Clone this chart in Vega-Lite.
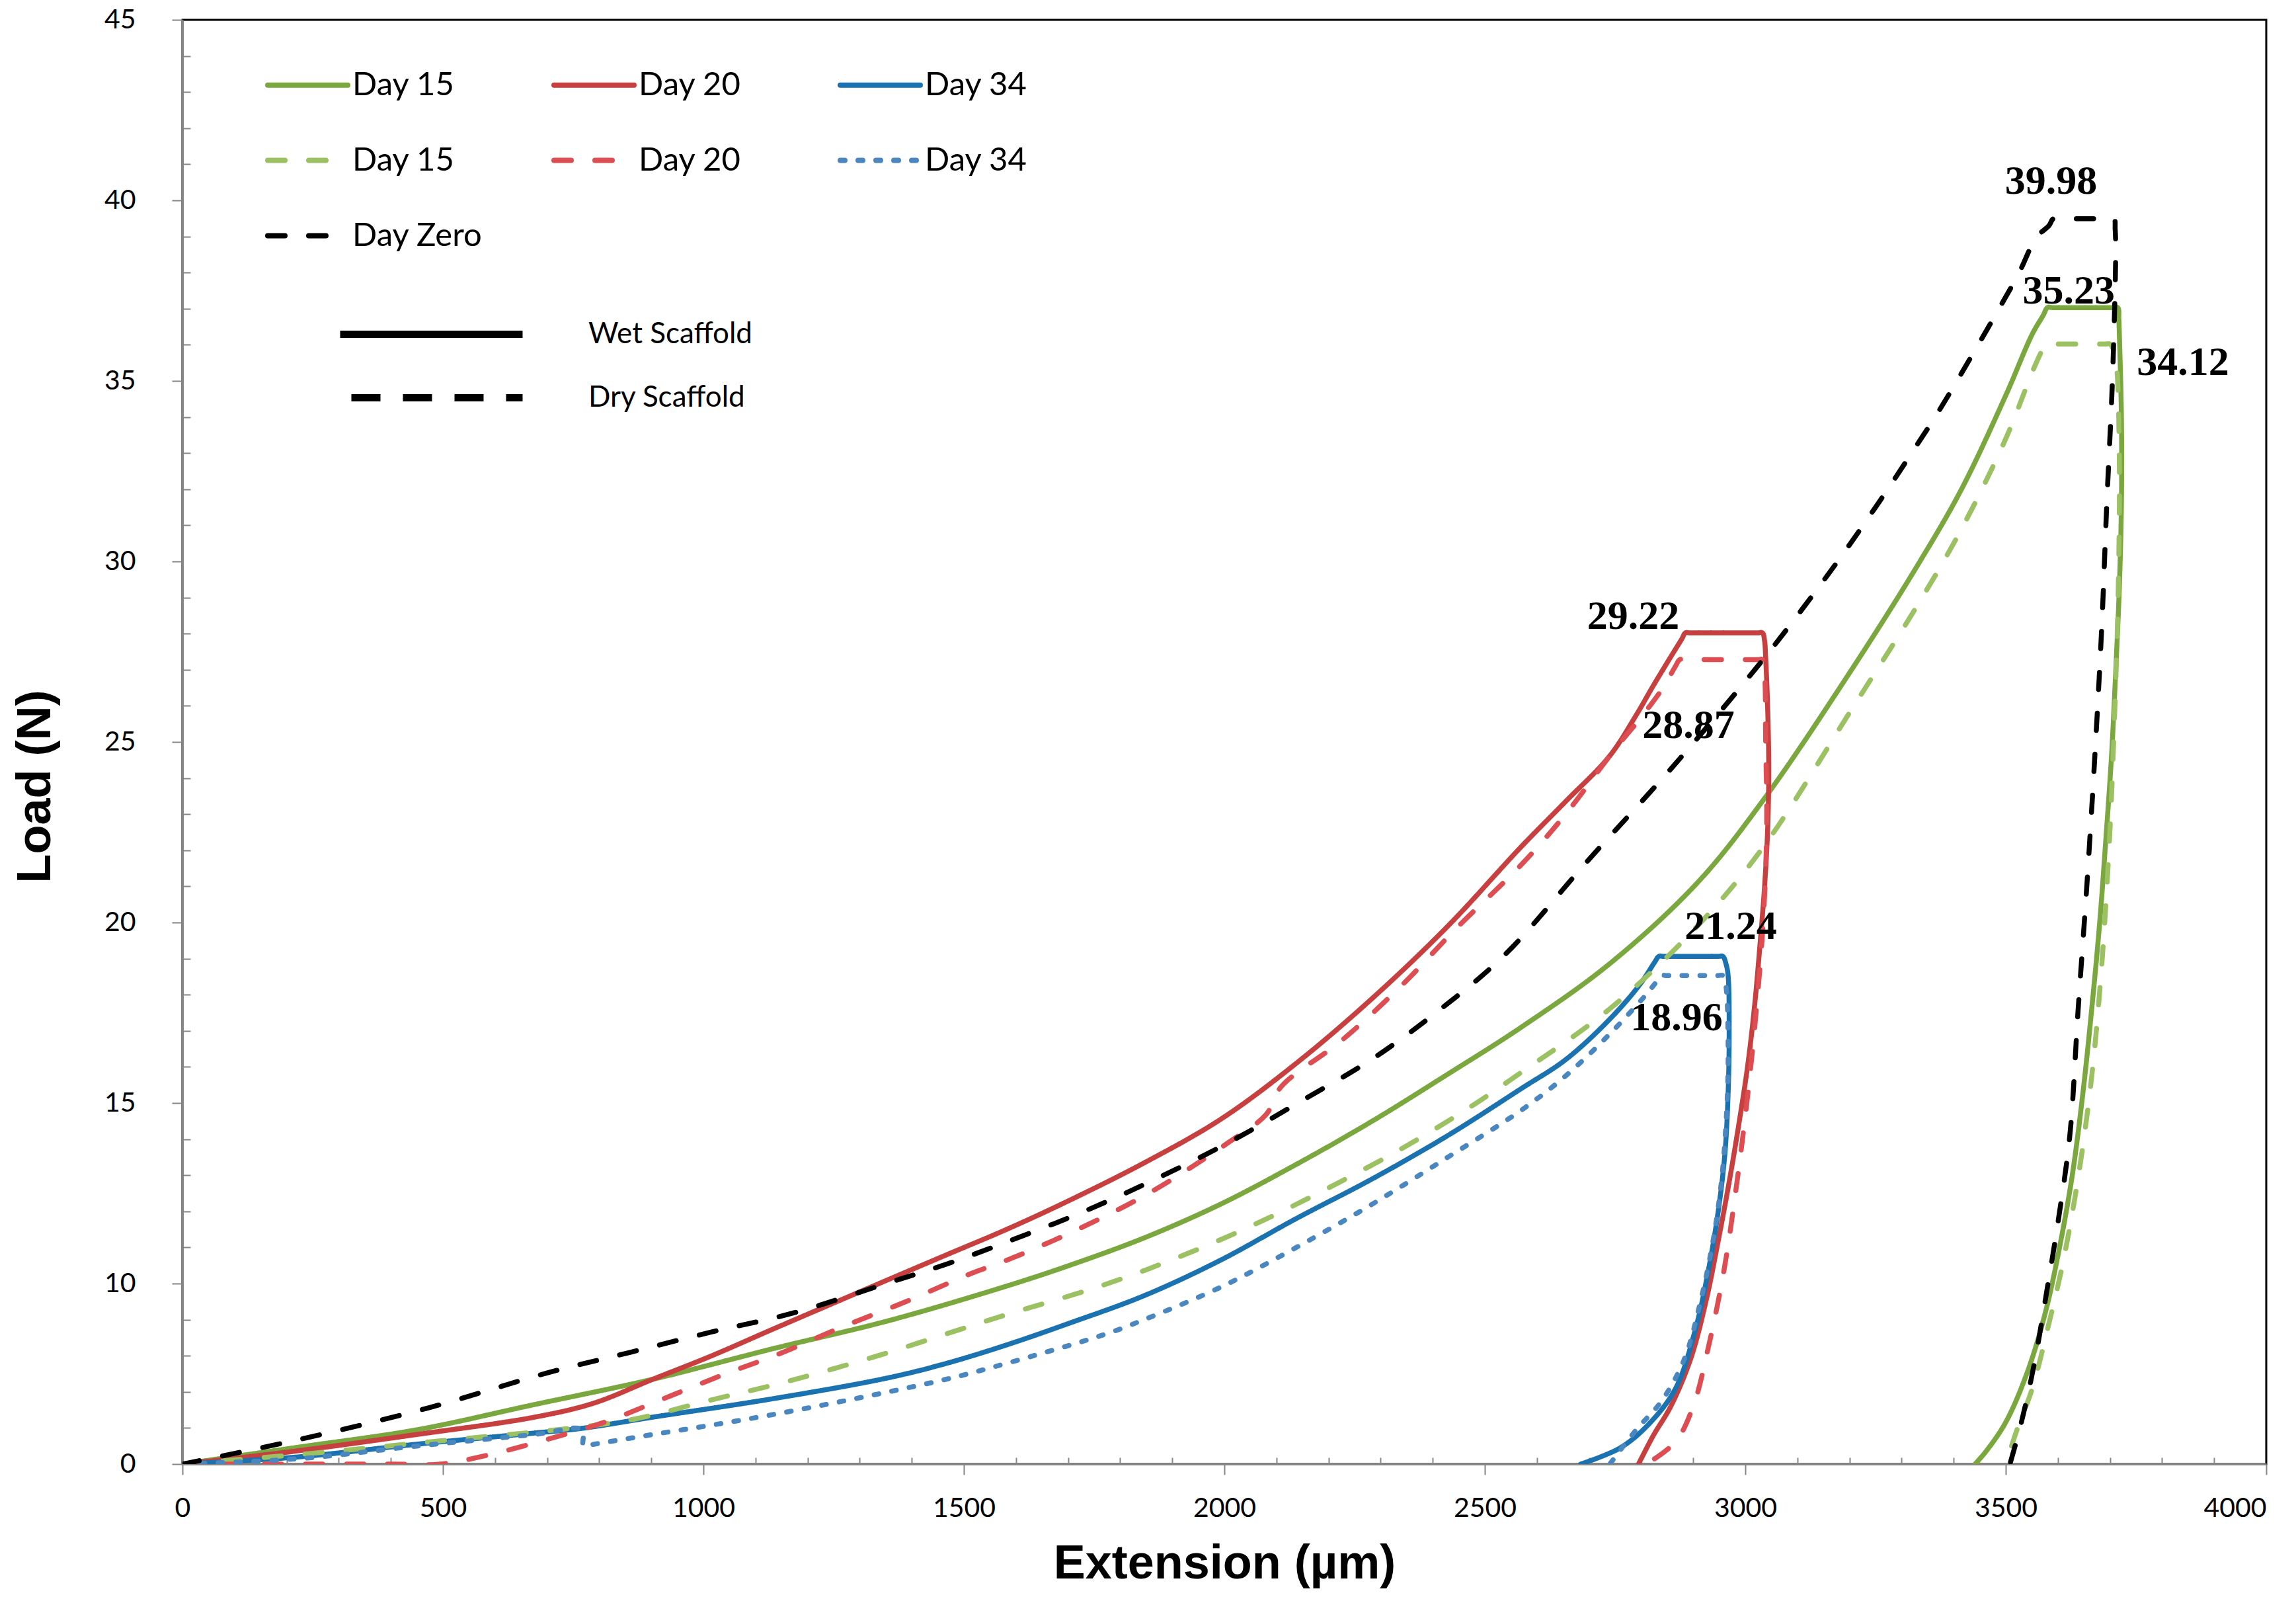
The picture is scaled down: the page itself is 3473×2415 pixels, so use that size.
{
"$schema": "https://vega.github.io/schema/vega-lite/v6.json",
"autosize": "none",
"width": 3152,
"height": 2184,
"padding": {"left": 276, "top": 30, "right": 45, "bottom": 201},
"background": "white",
"config": {"view": {"stroke": "black", "strokeWidth": 3}},
"datasets": {
"curves": [
{"series":"Day 15 wet","scaffold":"Wet Scaffold","i":0,"x":0,"y":5},
{"series":"Day 15 wet","scaffold":"Wet Scaffold","i":1,"x":224,"y":5.47},
{"series":"Day 15 wet","scaffold":"Wet Scaffold","i":2,"x":450,"y":5.95},
{"series":"Day 15 wet","scaffold":"Wet Scaffold","i":3,"x":676,"y":6.65},
{"series":"Day 15 wet","scaffold":"Wet Scaffold","i":4,"x":903,"y":7.35},
{"series":"Day 15 wet","scaffold":"Wet Scaffold","i":5,"x":1129,"y":8.18},
{"series":"Day 15 wet","scaffold":"Wet Scaffold","i":6,"x":1355,"y":8.97},
{"series":"Day 15 wet","scaffold":"Wet Scaffold","i":7,"x":1582,"y":9.93},
{"series":"Day 15 wet","scaffold":"Wet Scaffold","i":8,"x":1702,"y":10.5},
{"series":"Day 15 wet","scaffold":"Wet Scaffold","i":9,"x":1847,"y":11.27},
{"series":"Day 15 wet","scaffold":"Wet Scaffold","i":10,"x":1993,"y":12.2},
{"series":"Day 15 wet","scaffold":"Wet Scaffold","i":11,"x":2138,"y":13.3},
{"series":"Day 15 wet","scaffold":"Wet Scaffold","i":12,"x":2284,"y":14.5},
{"series":"Day 15 wet","scaffold":"Wet Scaffold","i":13,"x":2429,"y":15.8},
{"series":"Day 15 wet","scaffold":"Wet Scaffold","i":14,"x":2570,"y":17.1},
{"series":"Day 15 wet","scaffold":"Wet Scaffold","i":15,"x":2739,"y":18.85},
{"series":"Day 15 wet","scaffold":"Wet Scaffold","i":16,"x":2908,"y":21.1},
{"series":"Day 15 wet","scaffold":"Wet Scaffold","i":17,"x":3035,"y":23.4},
{"series":"Day 15 wet","scaffold":"Wet Scaffold","i":18,"x":3204,"y":27.0},
{"series":"Day 15 wet","scaffold":"Wet Scaffold","i":19,"x":3331,"y":29.9},
{"series":"Day 15 wet","scaffold":"Wet Scaffold","i":20,"x":3415,"y":32.0},
{"series":"Day 15 wet","scaffold":"Wet Scaffold","i":21,"x":3500,"y":34.6},
{"series":"Day 15 wet","scaffold":"Wet Scaffold","i":22,"x":3551,"y":36.3},
{"series":"Day 15 wet","scaffold":"Wet Scaffold","i":23,"x":3572,"y":36.82},
{"series":"Day 15 wet","scaffold":"Wet Scaffold","i":24,"x":3580,"y":37.03},
{"series":"Day 15 wet","scaffold":"Wet Scaffold","i":25,"x":3590,"y":37.03},
{"series":"Day 15 wet","scaffold":"Wet Scaffold","i":26,"x":3705,"y":37.03},
{"series":"Day 15 wet","scaffold":"Wet Scaffold","i":27,"x":3715,"y":37.03},
{"series":"Day 15 wet","scaffold":"Wet Scaffold","i":28,"x":3717,"y":36.7},
{"series":"Day 15 wet","scaffold":"Wet Scaffold","i":29,"x":3718,"y":36.3},
{"series":"Day 15 wet","scaffold":"Wet Scaffold","i":30,"x":3722,"y":33.96},
{"series":"Day 15 wet","scaffold":"Wet Scaffold","i":31,"x":3722,"y":31.63},
{"series":"Day 15 wet","scaffold":"Wet Scaffold","i":32,"x":3718,"y":29.29},
{"series":"Day 15 wet","scaffold":"Wet Scaffold","i":33,"x":3711,"y":26.95},
{"series":"Day 15 wet","scaffold":"Wet Scaffold","i":34,"x":3703,"y":24.62},
{"series":"Day 15 wet","scaffold":"Wet Scaffold","i":35,"x":3692,"y":22.28},
{"series":"Day 15 wet","scaffold":"Wet Scaffold","i":36,"x":3680,"y":19.95},
{"series":"Day 15 wet","scaffold":"Wet Scaffold","i":37,"x":3665,"y":17.61},
{"series":"Day 15 wet","scaffold":"Wet Scaffold","i":38,"x":3648,"y":15.27},
{"series":"Day 15 wet","scaffold":"Wet Scaffold","i":39,"x":3627,"y":12.94},
{"series":"Day 15 wet","scaffold":"Wet Scaffold","i":40,"x":3601,"y":10.84},
{"series":"Day 15 wet","scaffold":"Wet Scaffold","i":41,"x":3576,"y":9.2},
{"series":"Day 15 wet","scaffold":"Wet Scaffold","i":42,"x":3542,"y":7.57},
{"series":"Day 15 wet","scaffold":"Wet Scaffold","i":43,"x":3500,"y":6.16},
{"series":"Day 15 wet","scaffold":"Wet Scaffold","i":44,"x":3462,"y":5.35},
{"series":"Day 15 wet","scaffold":"Wet Scaffold","i":45,"x":3441,"y":5},
{"series":"Day 20 wet","scaffold":"Wet Scaffold","i":0,"x":0,"y":5},
{"series":"Day 20 wet","scaffold":"Wet Scaffold","i":1,"x":201,"y":5.33},
{"series":"Day 20 wet","scaffold":"Wet Scaffold","i":2,"x":450,"y":5.82},
{"series":"Day 20 wet","scaffold":"Wet Scaffold","i":3,"x":676,"y":6.3},
{"series":"Day 20 wet","scaffold":"Wet Scaffold","i":4,"x":790,"y":6.69},
{"series":"Day 20 wet","scaffold":"Wet Scaffold","i":5,"x":903,"y":7.35},
{"series":"Day 20 wet","scaffold":"Wet Scaffold","i":6,"x":1016,"y":8.0},
{"series":"Day 20 wet","scaffold":"Wet Scaffold","i":7,"x":1129,"y":8.71},
{"series":"Day 20 wet","scaffold":"Wet Scaffold","i":8,"x":1242,"y":9.41},
{"series":"Day 20 wet","scaffold":"Wet Scaffold","i":9,"x":1355,"y":10.11},
{"series":"Day 20 wet","scaffold":"Wet Scaffold","i":10,"x":1469,"y":10.81},
{"series":"Day 20 wet","scaffold":"Wet Scaffold","i":11,"x":1582,"y":11.5},
{"series":"Day 20 wet","scaffold":"Wet Scaffold","i":12,"x":1702,"y":12.3},
{"series":"Day 20 wet","scaffold":"Wet Scaffold","i":13,"x":1847,"y":13.35},
{"series":"Day 20 wet","scaffold":"Wet Scaffold","i":14,"x":1993,"y":14.55},
{"series":"Day 20 wet","scaffold":"Wet Scaffold","i":15,"x":2138,"y":16.1},
{"series":"Day 20 wet","scaffold":"Wet Scaffold","i":16,"x":2284,"y":17.9},
{"series":"Day 20 wet","scaffold":"Wet Scaffold","i":17,"x":2429,"y":19.9},
{"series":"Day 20 wet","scaffold":"Wet Scaffold","i":18,"x":2570,"y":22.1},
{"series":"Day 20 wet","scaffold":"Wet Scaffold","i":19,"x":2655,"y":23.35},
{"series":"Day 20 wet","scaffold":"Wet Scaffold","i":20,"x":2739,"y":24.6},
{"series":"Day 20 wet","scaffold":"Wet Scaffold","i":21,"x":2790,"y":25.73},
{"series":"Day 20 wet","scaffold":"Wet Scaffold","i":22,"x":2823,"y":26.55},
{"series":"Day 20 wet","scaffold":"Wet Scaffold","i":23,"x":2857,"y":27.36},
{"series":"Day 20 wet","scaffold":"Wet Scaffold","i":24,"x":2878,"y":27.85},
{"series":"Day 20 wet","scaffold":"Wet Scaffold","i":25,"x":2885,"y":28.02},
{"series":"Day 20 wet","scaffold":"Wet Scaffold","i":26,"x":2895,"y":28.02},
{"series":"Day 20 wet","scaffold":"Wet Scaffold","i":27,"x":3023,"y":28.02},
{"series":"Day 20 wet","scaffold":"Wet Scaffold","i":28,"x":3033,"y":28.02},
{"series":"Day 20 wet","scaffold":"Wet Scaffold","i":29,"x":3037,"y":27.8},
{"series":"Day 20 wet","scaffold":"Wet Scaffold","i":30,"x":3039,"y":27.36},
{"series":"Day 20 wet","scaffold":"Wet Scaffold","i":31,"x":3043,"y":25.9},
{"series":"Day 20 wet","scaffold":"Wet Scaffold","i":32,"x":3045,"y":24.26},
{"series":"Day 20 wet","scaffold":"Wet Scaffold","i":33,"x":3043,"y":22.62},
{"series":"Day 20 wet","scaffold":"Wet Scaffold","i":34,"x":3037,"y":21.0},
{"series":"Day 20 wet","scaffold":"Wet Scaffold","i":35,"x":3028,"y":19.35},
{"series":"Day 20 wet","scaffold":"Wet Scaffold","i":36,"x":3018,"y":17.72},
{"series":"Day 20 wet","scaffold":"Wet Scaffold","i":37,"x":3005,"y":16.08},
{"series":"Day 20 wet","scaffold":"Wet Scaffold","i":38,"x":2988,"y":14.45},
{"series":"Day 20 wet","scaffold":"Wet Scaffold","i":39,"x":2969,"y":12.81},
{"series":"Day 20 wet","scaffold":"Wet Scaffold","i":40,"x":2948,"y":11.18},
{"series":"Day 20 wet","scaffold":"Wet Scaffold","i":41,"x":2925,"y":9.54},
{"series":"Day 20 wet","scaffold":"Wet Scaffold","i":42,"x":2895,"y":7.91},
{"series":"Day 20 wet","scaffold":"Wet Scaffold","i":43,"x":2857,"y":6.6},
{"series":"Day 20 wet","scaffold":"Wet Scaffold","i":44,"x":2823,"y":5.78},
{"series":"Day 20 wet","scaffold":"Wet Scaffold","i":45,"x":2795,"y":5},
{"series":"Day 34 wet","scaffold":"Wet Scaffold","i":0,"x":0,"y":5},
{"series":"Day 34 wet","scaffold":"Wet Scaffold","i":1,"x":224,"y":5.2},
{"series":"Day 34 wet","scaffold":"Wet Scaffold","i":2,"x":450,"y":5.55},
{"series":"Day 34 wet","scaffold":"Wet Scaffold","i":3,"x":676,"y":5.86},
{"series":"Day 34 wet","scaffold":"Wet Scaffold","i":4,"x":767,"y":5.99},
{"series":"Day 34 wet","scaffold":"Wet Scaffold","i":5,"x":903,"y":6.3},
{"series":"Day 34 wet","scaffold":"Wet Scaffold","i":6,"x":1129,"y":6.8},
{"series":"Day 34 wet","scaffold":"Wet Scaffold","i":7,"x":1355,"y":7.39},
{"series":"Day 34 wet","scaffold":"Wet Scaffold","i":8,"x":1469,"y":7.8},
{"series":"Day 34 wet","scaffold":"Wet Scaffold","i":9,"x":1582,"y":8.3},
{"series":"Day 34 wet","scaffold":"Wet Scaffold","i":10,"x":1702,"y":8.9},
{"series":"Day 34 wet","scaffold":"Wet Scaffold","i":11,"x":1847,"y":9.67},
{"series":"Day 34 wet","scaffold":"Wet Scaffold","i":12,"x":1993,"y":10.65},
{"series":"Day 34 wet","scaffold":"Wet Scaffold","i":13,"x":2138,"y":11.8},
{"series":"Day 34 wet","scaffold":"Wet Scaffold","i":14,"x":2284,"y":12.9},
{"series":"Day 34 wet","scaffold":"Wet Scaffold","i":15,"x":2429,"y":14.1},
{"series":"Day 34 wet","scaffold":"Wet Scaffold","i":16,"x":2570,"y":15.4},
{"series":"Day 34 wet","scaffold":"Wet Scaffold","i":17,"x":2655,"y":16.2},
{"series":"Day 34 wet","scaffold":"Wet Scaffold","i":18,"x":2739,"y":17.31},
{"series":"Day 34 wet","scaffold":"Wet Scaffold","i":19,"x":2798,"y":18.29},
{"series":"Day 34 wet","scaffold":"Wet Scaffold","i":20,"x":2826,"y":18.9},
{"series":"Day 34 wet","scaffold":"Wet Scaffold","i":21,"x":2834,"y":19.06},
{"series":"Day 34 wet","scaffold":"Wet Scaffold","i":22,"x":2844,"y":19.06},
{"series":"Day 34 wet","scaffold":"Wet Scaffold","i":23,"x":2947,"y":19.06},
{"series":"Day 34 wet","scaffold":"Wet Scaffold","i":24,"x":2957,"y":19.06},
{"series":"Day 34 wet","scaffold":"Wet Scaffold","i":25,"x":2963,"y":18.85},
{"series":"Day 34 wet","scaffold":"Wet Scaffold","i":26,"x":2967,"y":18.53},
{"series":"Day 34 wet","scaffold":"Wet Scaffold","i":27,"x":2969,"y":16.9},
{"series":"Day 34 wet","scaffold":"Wet Scaffold","i":28,"x":2967,"y":15.27},
{"series":"Day 34 wet","scaffold":"Wet Scaffold","i":29,"x":2961,"y":13.63},
{"series":"Day 34 wet","scaffold":"Wet Scaffold","i":30,"x":2948,"y":12.0},
{"series":"Day 34 wet","scaffold":"Wet Scaffold","i":31,"x":2929,"y":10.36},
{"series":"Day 34 wet","scaffold":"Wet Scaffold","i":32,"x":2904,"y":8.72},
{"series":"Day 34 wet","scaffold":"Wet Scaffold","i":33,"x":2866,"y":7.09},
{"series":"Day 34 wet","scaffold":"Wet Scaffold","i":34,"x":2815,"y":6.11},
{"series":"Day 34 wet","scaffold":"Wet Scaffold","i":35,"x":2760,"y":5.45},
{"series":"Day 34 wet","scaffold":"Wet Scaffold","i":36,"x":2684,"y":5},
{"series":"Day 15 dry","scaffold":"Dry Scaffold","i":0,"x":0,"y":5},
{"series":"Day 15 dry","scaffold":"Dry Scaffold","i":1,"x":250,"y":5.3},
{"series":"Day 15 dry","scaffold":"Dry Scaffold","i":2,"x":500,"y":5.65},
{"series":"Day 15 dry","scaffold":"Dry Scaffold","i":3,"x":750,"y":6.0},
{"series":"Day 15 dry","scaffold":"Dry Scaffold","i":4,"x":869,"y":6.25},
{"series":"Day 15 dry","scaffold":"Dry Scaffold","i":5,"x":1016,"y":6.78},
{"series":"Day 15 dry","scaffold":"Dry Scaffold","i":6,"x":1129,"y":7.17},
{"series":"Day 15 dry","scaffold":"Dry Scaffold","i":7,"x":1242,"y":7.61},
{"series":"Day 15 dry","scaffold":"Dry Scaffold","i":8,"x":1355,"y":8.09},
{"series":"Day 15 dry","scaffold":"Dry Scaffold","i":9,"x":1469,"y":8.62},
{"series":"Day 15 dry","scaffold":"Dry Scaffold","i":10,"x":1582,"y":9.14},
{"series":"Day 15 dry","scaffold":"Dry Scaffold","i":11,"x":1760,"y":9.92},
{"series":"Day 15 dry","scaffold":"Dry Scaffold","i":12,"x":1905,"y":10.69},
{"series":"Day 15 dry","scaffold":"Dry Scaffold","i":13,"x":2051,"y":11.59},
{"series":"Day 15 dry","scaffold":"Dry Scaffold","i":14,"x":2196,"y":12.62},
{"series":"Day 15 dry","scaffold":"Dry Scaffold","i":15,"x":2342,"y":13.75},
{"series":"Day 15 dry","scaffold":"Dry Scaffold","i":16,"x":2473,"y":14.9},
{"series":"Day 15 dry","scaffold":"Dry Scaffold","i":17,"x":2570,"y":15.85},
{"series":"Day 15 dry","scaffold":"Dry Scaffold","i":18,"x":2739,"y":17.6},
{"series":"Day 15 dry","scaffold":"Dry Scaffold","i":19,"x":2908,"y":19.9},
{"series":"Day 15 dry","scaffold":"Dry Scaffold","i":20,"x":3035,"y":22.1},
{"series":"Day 15 dry","scaffold":"Dry Scaffold","i":21,"x":3204,"y":25.9},
{"series":"Day 15 dry","scaffold":"Dry Scaffold","i":22,"x":3331,"y":28.8},
{"series":"Day 15 dry","scaffold":"Dry Scaffold","i":23,"x":3415,"y":30.9},
{"series":"Day 15 dry","scaffold":"Dry Scaffold","i":24,"x":3500,"y":33.4},
{"series":"Day 15 dry","scaffold":"Dry Scaffold","i":25,"x":3551,"y":35.25},
{"series":"Day 15 dry","scaffold":"Dry Scaffold","i":26,"x":3568,"y":35.8},
{"series":"Day 15 dry","scaffold":"Dry Scaffold","i":27,"x":3576,"y":36.02},
{"series":"Day 15 dry","scaffold":"Dry Scaffold","i":28,"x":3586,"y":36.02},
{"series":"Day 15 dry","scaffold":"Dry Scaffold","i":29,"x":3690,"y":36.02},
{"series":"Day 15 dry","scaffold":"Dry Scaffold","i":30,"x":3700,"y":36.02},
{"series":"Day 15 dry","scaffold":"Dry Scaffold","i":31,"x":3708,"y":35.8},
{"series":"Day 15 dry","scaffold":"Dry Scaffold","i":32,"x":3713,"y":35.36},
{"series":"Day 15 dry","scaffold":"Dry Scaffold","i":33,"x":3718,"y":32.8},
{"series":"Day 15 dry","scaffold":"Dry Scaffold","i":34,"x":3716,"y":29.29},
{"series":"Day 15 dry","scaffold":"Dry Scaffold","i":35,"x":3709,"y":25.79},
{"series":"Day 15 dry","scaffold":"Dry Scaffold","i":36,"x":3699,"y":22.28},
{"series":"Day 15 dry","scaffold":"Dry Scaffold","i":37,"x":3684,"y":18.78},
{"series":"Day 15 dry","scaffold":"Dry Scaffold","i":38,"x":3665,"y":15.74},
{"series":"Day 15 dry","scaffold":"Dry Scaffold","i":39,"x":3639,"y":12.94},
{"series":"Day 15 dry","scaffold":"Dry Scaffold","i":40,"x":3610,"y":10.6},
{"series":"Day 15 dry","scaffold":"Dry Scaffold","i":41,"x":3580,"y":8.73},
{"series":"Day 15 dry","scaffold":"Dry Scaffold","i":42,"x":3551,"y":7.1},
{"series":"Day 15 dry","scaffold":"Dry Scaffold","i":43,"x":3521,"y":5.93},
{"series":"Day 15 dry","scaffold":"Dry Scaffold","i":44,"x":3500,"y":5},
{"series":"Day 20 dry","scaffold":"Dry Scaffold","i":0,"x":0,"y":5},
{"series":"Day 20 dry","scaffold":"Dry Scaffold","i":1,"x":400,"y":5},
{"series":"Day 20 dry","scaffold":"Dry Scaffold","i":2,"x":495,"y":5},
{"series":"Day 20 dry","scaffold":"Dry Scaffold","i":3,"x":586,"y":5.25},
{"series":"Day 20 dry","scaffold":"Dry Scaffold","i":4,"x":699,"y":5.68},
{"series":"Day 20 dry","scaffold":"Dry Scaffold","i":5,"x":812,"y":6.17},
{"series":"Day 20 dry","scaffold":"Dry Scaffold","i":6,"x":925,"y":6.82},
{"series":"Day 20 dry","scaffold":"Dry Scaffold","i":7,"x":1039,"y":7.48},
{"series":"Day 20 dry","scaffold":"Dry Scaffold","i":8,"x":1152,"y":8.09},
{"series":"Day 20 dry","scaffold":"Dry Scaffold","i":9,"x":1265,"y":8.79},
{"series":"Day 20 dry","scaffold":"Dry Scaffold","i":10,"x":1389,"y":9.5},
{"series":"Day 20 dry","scaffold":"Dry Scaffold","i":11,"x":1514,"y":10.28},
{"series":"Day 20 dry","scaffold":"Dry Scaffold","i":12,"x":1578,"y":10.62},
{"series":"Day 20 dry","scaffold":"Dry Scaffold","i":13,"x":1723,"y":11.53},
{"series":"Day 20 dry","scaffold":"Dry Scaffold","i":14,"x":1862,"y":12.56},
{"series":"Day 20 dry","scaffold":"Dry Scaffold","i":15,"x":2007,"y":13.9},
{"series":"Day 20 dry","scaffold":"Dry Scaffold","i":16,"x":2080,"y":14.68},
{"series":"Day 20 dry","scaffold":"Dry Scaffold","i":17,"x":2109,"y":15.45},
{"series":"Day 20 dry","scaffold":"Dry Scaffold","i":18,"x":2225,"y":16.73},
{"series":"Day 20 dry","scaffold":"Dry Scaffold","i":19,"x":2342,"y":18.28},
{"series":"Day 20 dry","scaffold":"Dry Scaffold","i":20,"x":2444,"y":19.82},
{"series":"Day 20 dry","scaffold":"Dry Scaffold","i":21,"x":2570,"y":21.6},
{"series":"Day 20 dry","scaffold":"Dry Scaffold","i":22,"x":2655,"y":23.0},
{"series":"Day 20 dry","scaffold":"Dry Scaffold","i":23,"x":2747,"y":24.75},
{"series":"Day 20 dry","scaffold":"Dry Scaffold","i":24,"x":2798,"y":25.65},
{"series":"Day 20 dry","scaffold":"Dry Scaffold","i":25,"x":2840,"y":26.46},
{"series":"Day 20 dry","scaffold":"Dry Scaffold","i":26,"x":2866,"y":27.1},
{"series":"Day 20 dry","scaffold":"Dry Scaffold","i":27,"x":2874,"y":27.28},
{"series":"Day 20 dry","scaffold":"Dry Scaffold","i":28,"x":2884,"y":27.28},
{"series":"Day 20 dry","scaffold":"Dry Scaffold","i":29,"x":3023,"y":27.28},
{"series":"Day 20 dry","scaffold":"Dry Scaffold","i":30,"x":3033,"y":27.28},
{"series":"Day 20 dry","scaffold":"Dry Scaffold","i":31,"x":3037,"y":26.9},
{"series":"Day 20 dry","scaffold":"Dry Scaffold","i":32,"x":3039,"y":25.07},
{"series":"Day 20 dry","scaffold":"Dry Scaffold","i":33,"x":3041,"y":22.62},
{"series":"Day 20 dry","scaffold":"Dry Scaffold","i":34,"x":3035,"y":20.17},
{"series":"Day 20 dry","scaffold":"Dry Scaffold","i":35,"x":3022,"y":17.72},
{"series":"Day 20 dry","scaffold":"Dry Scaffold","i":36,"x":3005,"y":15.27},
{"series":"Day 20 dry","scaffold":"Dry Scaffold","i":37,"x":2984,"y":12.81},
{"series":"Day 20 dry","scaffold":"Dry Scaffold","i":38,"x":2959,"y":10.36},
{"series":"Day 20 dry","scaffold":"Dry Scaffold","i":39,"x":2929,"y":8.23},
{"series":"Day 20 dry","scaffold":"Dry Scaffold","i":40,"x":2900,"y":6.6},
{"series":"Day 20 dry","scaffold":"Dry Scaffold","i":41,"x":2866,"y":5.62},
{"series":"Day 20 dry","scaffold":"Dry Scaffold","i":42,"x":2810,"y":5},
{"series":"Day 34 dry","scaffold":"Dry Scaffold","i":0,"x":0,"y":5},
{"series":"Day 34 dry","scaffold":"Dry Scaffold","i":1,"x":224,"y":5.15},
{"series":"Day 34 dry","scaffold":"Dry Scaffold","i":2,"x":450,"y":5.5},
{"series":"Day 34 dry","scaffold":"Dry Scaffold","i":3,"x":676,"y":5.82},
{"series":"Day 34 dry","scaffold":"Dry Scaffold","i":4,"x":767,"y":5.95},
{"series":"Day 34 dry","scaffold":"Dry Scaffold","i":5,"x":770,"y":5.5},
{"series":"Day 34 dry","scaffold":"Dry Scaffold","i":6,"x":790,"y":5.55},
{"series":"Day 34 dry","scaffold":"Dry Scaffold","i":7,"x":903,"y":5.82},
{"series":"Day 34 dry","scaffold":"Dry Scaffold","i":8,"x":1016,"y":6.08},
{"series":"Day 34 dry","scaffold":"Dry Scaffold","i":9,"x":1129,"y":6.36},
{"series":"Day 34 dry","scaffold":"Dry Scaffold","i":10,"x":1242,"y":6.67},
{"series":"Day 34 dry","scaffold":"Dry Scaffold","i":11,"x":1355,"y":7.0},
{"series":"Day 34 dry","scaffold":"Dry Scaffold","i":12,"x":1469,"y":7.36},
{"series":"Day 34 dry","scaffold":"Dry Scaffold","i":13,"x":1582,"y":7.79},
{"series":"Day 34 dry","scaffold":"Dry Scaffold","i":14,"x":1772,"y":8.6},
{"series":"Day 34 dry","scaffold":"Dry Scaffold","i":15,"x":1832,"y":8.92},
{"series":"Day 34 dry","scaffold":"Dry Scaffold","i":16,"x":1993,"y":9.9},
{"series":"Day 34 dry","scaffold":"Dry Scaffold","i":17,"x":2138,"y":11.0},
{"series":"Day 34 dry","scaffold":"Dry Scaffold","i":18,"x":2284,"y":12.2},
{"series":"Day 34 dry","scaffold":"Dry Scaffold","i":19,"x":2429,"y":13.5},
{"series":"Day 34 dry","scaffold":"Dry Scaffold","i":20,"x":2570,"y":14.8},
{"series":"Day 34 dry","scaffold":"Dry Scaffold","i":21,"x":2655,"y":15.75},
{"series":"Day 34 dry","scaffold":"Dry Scaffold","i":22,"x":2739,"y":16.9},
{"series":"Day 34 dry","scaffold":"Dry Scaffold","i":23,"x":2807,"y":17.96},
{"series":"Day 34 dry","scaffold":"Dry Scaffold","i":24,"x":2832,"y":18.4},
{"series":"Day 34 dry","scaffold":"Dry Scaffold","i":25,"x":2840,"y":18.53},
{"series":"Day 34 dry","scaffold":"Dry Scaffold","i":26,"x":2850,"y":18.53},
{"series":"Day 34 dry","scaffold":"Dry Scaffold","i":27,"x":2947,"y":18.53},
{"series":"Day 34 dry","scaffold":"Dry Scaffold","i":28,"x":2957,"y":18.53},
{"series":"Day 34 dry","scaffold":"Dry Scaffold","i":29,"x":2962,"y":18.3},
{"series":"Day 34 dry","scaffold":"Dry Scaffold","i":30,"x":2965,"y":17.88},
{"series":"Day 34 dry","scaffold":"Dry Scaffold","i":31,"x":2967,"y":16.08},
{"series":"Day 34 dry","scaffold":"Dry Scaffold","i":32,"x":2963,"y":14.45},
{"series":"Day 34 dry","scaffold":"Dry Scaffold","i":33,"x":2954,"y":12.81},
{"series":"Day 34 dry","scaffold":"Dry Scaffold","i":34,"x":2938,"y":11.18},
{"series":"Day 34 dry","scaffold":"Dry Scaffold","i":35,"x":2912,"y":9.38},
{"series":"Day 34 dry","scaffold":"Dry Scaffold","i":36,"x":2883,"y":7.91},
{"series":"Day 34 dry","scaffold":"Dry Scaffold","i":37,"x":2840,"y":6.76},
{"series":"Day 34 dry","scaffold":"Dry Scaffold","i":38,"x":2790,"y":5.94},
{"series":"Day 34 dry","scaffold":"Dry Scaffold","i":39,"x":2740,"y":5},
{"series":"Day Zero","scaffold":"Dry Scaffold","i":0,"x":0,"y":5},
{"series":"Day Zero","scaffold":"Dry Scaffold","i":1,"x":224,"y":5.68},
{"series":"Day Zero","scaffold":"Dry Scaffold","i":2,"x":473,"y":6.56},
{"series":"Day Zero","scaffold":"Dry Scaffold","i":3,"x":699,"y":7.52},
{"series":"Day Zero","scaffold":"Dry Scaffold","i":4,"x":858,"y":8.09},
{"series":"Day Zero","scaffold":"Dry Scaffold","i":5,"x":1016,"y":8.66},
{"series":"Day Zero","scaffold":"Dry Scaffold","i":6,"x":1174,"y":9.19},
{"series":"Day Zero","scaffold":"Dry Scaffold","i":7,"x":1355,"y":10.02},
{"series":"Day Zero","scaffold":"Dry Scaffold","i":8,"x":1469,"y":10.55},
{"series":"Day Zero","scaffold":"Dry Scaffold","i":9,"x":1582,"y":11.15},
{"series":"Day Zero","scaffold":"Dry Scaffold","i":10,"x":1731,"y":12.0},
{"series":"Day Zero","scaffold":"Dry Scaffold","i":11,"x":1869,"y":12.9},
{"series":"Day Zero","scaffold":"Dry Scaffold","i":12,"x":2014,"y":13.95},
{"series":"Day Zero","scaffold":"Dry Scaffold","i":13,"x":2153,"y":15.1},
{"series":"Day Zero","scaffold":"Dry Scaffold","i":14,"x":2284,"y":16.22},
{"series":"Day Zero","scaffold":"Dry Scaffold","i":15,"x":2415,"y":17.6},
{"series":"Day Zero","scaffold":"Dry Scaffold","i":16,"x":2538,"y":19.1},
{"series":"Day Zero","scaffold":"Dry Scaffold","i":17,"x":2697,"y":21.7},
{"series":"Day Zero","scaffold":"Dry Scaffold","i":18,"x":2866,"y":24.4},
{"series":"Day Zero","scaffold":"Dry Scaffold","i":19,"x":3035,"y":27.3},
{"series":"Day Zero","scaffold":"Dry Scaffold","i":20,"x":3162,"y":29.7},
{"series":"Day Zero","scaffold":"Dry Scaffold","i":21,"x":3250,"y":31.5},
{"series":"Day Zero","scaffold":"Dry Scaffold","i":22,"x":3331,"y":33.26},
{"series":"Day Zero","scaffold":"Dry Scaffold","i":23,"x":3373,"y":34.2},
{"series":"Day Zero","scaffold":"Dry Scaffold","i":24,"x":3445,"y":35.95},
{"series":"Day Zero","scaffold":"Dry Scaffold","i":25,"x":3487,"y":37.0},
{"series":"Day Zero","scaffold":"Dry Scaffold","i":26,"x":3525,"y":37.98},
{"series":"Day Zero","scaffold":"Dry Scaffold","i":27,"x":3559,"y":38.98},
{"series":"Day Zero","scaffold":"Dry Scaffold","i":28,"x":3583,"y":39.3},
{"series":"Day Zero","scaffold":"Dry Scaffold","i":29,"x":3591,"y":39.49},
{"series":"Day Zero","scaffold":"Dry Scaffold","i":30,"x":3601,"y":39.49},
{"series":"Day Zero","scaffold":"Dry Scaffold","i":31,"x":3698,"y":39.49},
{"series":"Day Zero","scaffold":"Dry Scaffold","i":32,"x":3708,"y":39.49},
{"series":"Day Zero","scaffold":"Dry Scaffold","i":33,"x":3710,"y":39.2},
{"series":"Day Zero","scaffold":"Dry Scaffold","i":34,"x":3711,"y":38.63},
{"series":"Day Zero","scaffold":"Dry Scaffold","i":35,"x":3705,"y":35.13},
{"series":"Day Zero","scaffold":"Dry Scaffold","i":36,"x":3694,"y":31.63},
{"series":"Day Zero","scaffold":"Dry Scaffold","i":37,"x":3684,"y":28.12},
{"series":"Day Zero","scaffold":"Dry Scaffold","i":38,"x":3671,"y":24.62},
{"series":"Day Zero","scaffold":"Dry Scaffold","i":39,"x":3656,"y":21.11},
{"series":"Day Zero","scaffold":"Dry Scaffold","i":40,"x":3639,"y":17.61},
{"series":"Day Zero","scaffold":"Dry Scaffold","i":41,"x":3623,"y":14.11},
{"series":"Day Zero","scaffold":"Dry Scaffold","i":42,"x":3601,"y":11.77},
{"series":"Day Zero","scaffold":"Dry Scaffold","i":43,"x":3580,"y":9.9},
{"series":"Day Zero","scaffold":"Dry Scaffold","i":44,"x":3555,"y":7.8},
{"series":"Day Zero","scaffold":"Dry Scaffold","i":45,"x":3530,"y":6.16},
{"series":"Day Zero","scaffold":"Dry Scaffold","i":46,"x":3508,"y":5}
],
"labels": [
{"label":"39.98","x":3587,"y":40.53},
{"label":"35.23","x":3621,"y":37.49},
{"label":"34.12","x":3840,"y":35.51},
{"label":"29.22","x":2785,"y":28.48},
{"label":"28.87","x":2891,"y":25.46},
{"label":"21.24","x":2972,"y":19.89},
{"label":"18.96","x":2868,"y":17.36}
]
},
"layer": [
{
"data": {"name": "curves"},
"mark": {"type": "line", "strokeWidth": 7.5, "strokeCap": "round", "strokeJoin": "round", "interpolate": "catmull-rom", "clip": true},
"encoding": {
"x": {"field": "x", "type": "quantitative",
 "scale": {"domain": [0, 4000], "nice": false, "zero": false},
 "axis": {
  "title": "Extension (µm)",
  "values": [0,100,200,300,400,500,600,700,800,900,1000,1100,1200,1300,1400,1500,1600,1700,1800,1900,2000,2100,2200,2300,2400,2500,2600,2700,2800,2900,3000,3100,3200,3300,3400,3500,3600,3700,3800,3900,4000],
  "format": "d",
  "labelExpr": "datum.value % 500 === 0 ? datum.label : ''",
  "tickSize": {"condition": {"test": "datum.value % 500 === 0", "value": 16}, "value": -10},
  "tickColor": "#868686", "tickWidth": 2,
  "domainColor": "#868686", "domainWidth": 3,
  "grid": false,
  "labelFont": "Lato", "labelFontSize": 41, "labelColor": "black",
  "labelPadding": 31,
  "labelAlign": {"condition": {"test": "datum.value === 4000", "value": "right"}, "value": "center"},
  "labelOverlap": false, "labelBound": false,
  "titleFont": "Liberation Sans", "titleFontSize": 72, "titleFontWeight": "bold", "titleColor": "black",
  "titleY": 172, "titleBaseline": "alphabetic"
 }},
"y": {"field": "y", "type": "quantitative",
 "scale": {"domain": [5, 45], "nice": false, "zero": false},
 "axis": {
  "title": "Load (N)",
  "values": [5,6,7,8,9,10,11,12,13,14,15,16,17,18,19,20,21,22,23,24,25,26,27,28,29,30,31,32,33,34,35,36,37,38,39,40,41,42,43,44,45],
  "format": "d",
  "labelExpr": "datum.value === 5 ? '0' : (datum.value % 5 === 0 ? datum.label : '')",
  "tickSize": {"condition": {"test": "datum.value % 5 === 0", "value": 16}, "value": -12},
  "tickColor": "#868686", "tickWidth": 2,
  "domainColor": "#868686", "domainWidth": 3,
  "grid": false,
  "labelFont": "Lato", "labelFontSize": 41, "labelColor": "black",
  "labelPadding": 55,
  "labelOverlap": false, "labelBound": false,
  "titleFont": "Liberation Sans", "titleFontSize": 72, "titleFontWeight": "bold", "titleColor": "black",
  "titleAngle": 270, "titleX": -201, "titleY": 1159, "titleBaseline": "alphabetic", "titleAlign": "center"
 }},
"color": {"field": "series", "type": "nominal",
 "scale": {"domain": ["Day 15 wet","Day 20 wet","Day 34 wet","Day 15 dry","Day 20 dry","Day 34 dry","Day Zero"],
  "range": ["#7BA83E","#C7403F","#1A73B0","#9BC163","#DD4D52","#4A87C0","#000000"]},
 "legend": {"title": null, "orient": "none", "direction": "horizontal", "legendX": 125, "legendY": 34, "columns": 3, "gridAlign": "all",
  "columnPadding": 91, "rowPadding": 24, "symbolType": "stroke", "symbolSize": 14641, "symbolStrokeWidth": 8,
  "labelFont": "Lato", "labelFontSize": 49, "labelColor": "black", "labelOffset": 3, "labelLimit": 0,
  "labelExpr": "replace(replace(datum.label, ' wet', ''), ' dry', '')",
  "encode": {"symbols": {"update": {
   "strokeDash": {"signal": "datum.value === 'Day 34 dry' ? [7, 20] : (datum.value === 'Day 15 dry' || datum.value === 'Day 20 dry' || datum.value === 'Day Zero' ? [26, 36] : [1, 0])"},
   "strokeCap": {"value": "round"}}}}}},
"strokeDash": {"field": "series", "type": "nominal",
 "scale": {"domain": ["Day 15 wet","Day 20 wet","Day 34 wet","Day 15 dry","Day 20 dry","Day 34 dry","Day Zero"],
  "range": [[1,0],[1,0],[1,0],[26,36],[26,36],[7,20],[26,36]]},
 "legend": null},
"order": {"field": "i", "type": "quantitative"}
}
},
{
"data": {"name": "labels"},
"mark": {"type": "text", "font": "Liberation Serif", "fontWeight": "bold", "fontSize": 62, "align": "center", "baseline": "middle", "color": "black"},
"encoding": {
"x": {"field": "x", "type": "quantitative"},
"y": {"field": "y", "type": "quantitative"},
"text": {"field": "label", "type": "nominal"}
}
},
{
"data": {"name": "curves"},
"mark": {"type": "line", "opacity": 0, "color": "black", "strokeWidth": 11, "strokeCap": "butt"},
"encoding": {
"x": {"field": "x", "type": "quantitative"},
"y": {"field": "y", "type": "quantitative"},
"detail": {"field": "series", "type": "nominal"},
"order": {"field": "i", "type": "quantitative"},
"strokeDash": {"field": "scaffold", "type": "nominal",
 "scale": {"domain": ["Wet Scaffold","Dry Scaffold"], "range": [[1,0],[44,34]]},
 "legend": {"title": null, "orient": "none", "legendX": 233, "legendY": 424, "rowPadding": 22,
  "symbolType": "M-1,0L5,0", "symbolSize": 8464, "symbolStrokeWidth": 11, "symbolStrokeColor": "black",
  "symbolOpacity": 1, "symbolDashOffset": 61,
  "labelFont": "Lato", "labelFontSize": 44, "labelColor": "black", "labelOffset": 278, "labelLimit": 0}}
}
}
],
"resolve": {"scale": {"strokeDash": "independent"}}
}
